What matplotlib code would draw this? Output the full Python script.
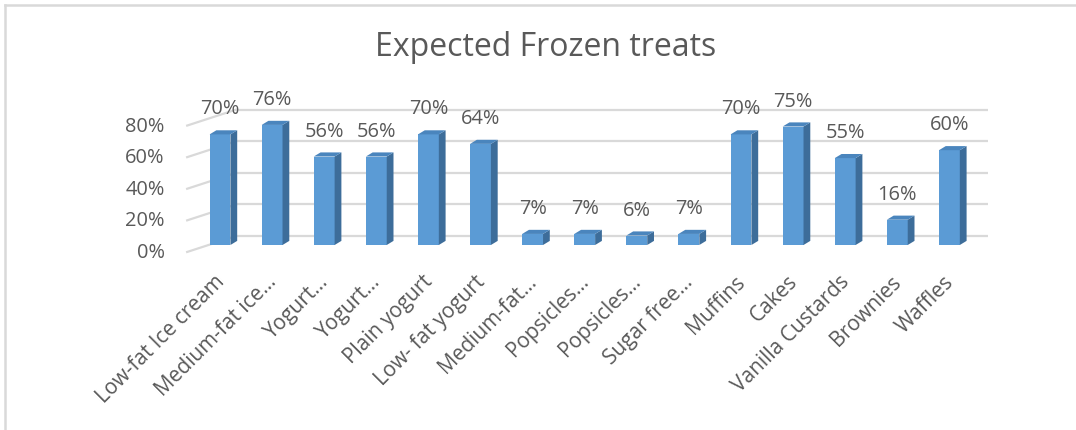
import matplotlib.pyplot as plt
from matplotlib.patches import Polygon
from matplotlib.lines import Line2D

categories = ['Low-fat Ice cream', 'Medium-fat ice…', 'Yogurt…', 'Yogurt…',
              'Plain yogurt', 'Low- fat yogurt', 'Medium-fat…', 'Popsicles…',
              'Popsicles…', 'Sugar free…', 'Muffins', 'Cakes',
              'Vanilla Custards', 'Brownies', 'Waffles']
values = [70, 76, 56, 56, 70, 64, 7, 7, 6, 7, 70, 75, 55, 16, 60]
y_ticks = [0, 20, 40, 60, 80]

TEXT = '#595959'
GRID = '#d9d9d9'
FRONT = '#5b9bd5'
SIDE = '#3d6d9a'
TOP = '#4a85bd'


def main():
    plt.rcParams['font.family'] = ['Open Sans', 'DejaVu Sans']

    W, H = 1076, 430
    fig = plt.figure(figsize=(W / 100, H / 100), dpi=100)
    ax = fig.add_axes([0, 0, 1, 1])

    # one category = 52.1 px, one percent = 1.58 px; bar base sits 245 px from the top
    px_x, px_y = 52.1, 1.58
    x0, y0 = 220, 245
    ax.set_xlim(-x0 / px_x, (W - x0) / px_x)
    ax.set_ylim(-(H - y0) / px_y, y0 / px_y)
    ax.axis('off')

    # depth of the box (floor front to back wall) and of a single bar
    wall_dx, wall_dy = 0.31, 5.7
    front_dx, front_dy = -0.63, -4.4
    bar_w = 0.40
    bar_dx, bar_dy = 0.13, 2.6

    # back wall gridlines and side wall slants
    right_end = (988 - x0) / px_x
    for v in y_ticks:
        ax.plot([wall_dx, right_end], [v + wall_dy, v + wall_dy],
                color=GRID, lw=1.6, zorder=1, solid_capstyle='butt')
        ax.plot([front_dx, wall_dx], [v + front_dy, v + wall_dy],
                color=GRID, lw=1.6, zorder=1)
        ax.text(-1.06, v + front_dy - 0.6, f'{v}%', ha='right',
                va='center', fontsize=14.4, color=TEXT)

    xs = list(range(len(values)))
    ax.bar(xs, values, width=bar_w, color=FRONT, zorder=3, linewidth=0)
    for x, v in zip(xs, values):
        r = x + bar_w / 2
        l = x - bar_w / 2
        ax.add_patch(Polygon([(r, 0), (r + bar_dx, bar_dy), (r + bar_dx, v + bar_dy), (r, v)],
                             closed=True, facecolor=SIDE, edgecolor='none', zorder=3))
        ax.add_patch(Polygon([(l, v), (r, v), (r + bar_dx, v + bar_dy), (l + bar_dx, v + bar_dy)],
                             closed=True, facecolor=TOP, edgecolor='none', zorder=3))
        ax.annotate(f'{v}%', (x, v), xytext=(0, 18), textcoords='offset points',
                    ha='center', va='center', fontsize=14.4, color=TEXT, zorder=4)

    for x, name in zip(xs, categories):
        ax.text(x + 0.02, -21.5, name, rotation=45, rotation_mode='anchor',
                ha='right', va='center', fontsize=15, color=TEXT)

    fig.text(546 / W, 1 - 47 / H, 'Expected Frozen treats', ha='center',
             va='center', fontsize=23, color=TEXT)

    # chart area border (only top and left edges fall inside the image)
    fig.add_artist(Line2D([5 / W, 5 / W], [0, 1 - 4.5 / H], color=GRID, lw=1.8))
    fig.add_artist(Line2D([5 / W, 1], [1 - 4.5 / H, 1 - 4.5 / H], color=GRID, lw=1.8))

    fig.savefig('out.png', dpi=100)
    plt.close(fig)


if __name__ == '__main__':
    main()
